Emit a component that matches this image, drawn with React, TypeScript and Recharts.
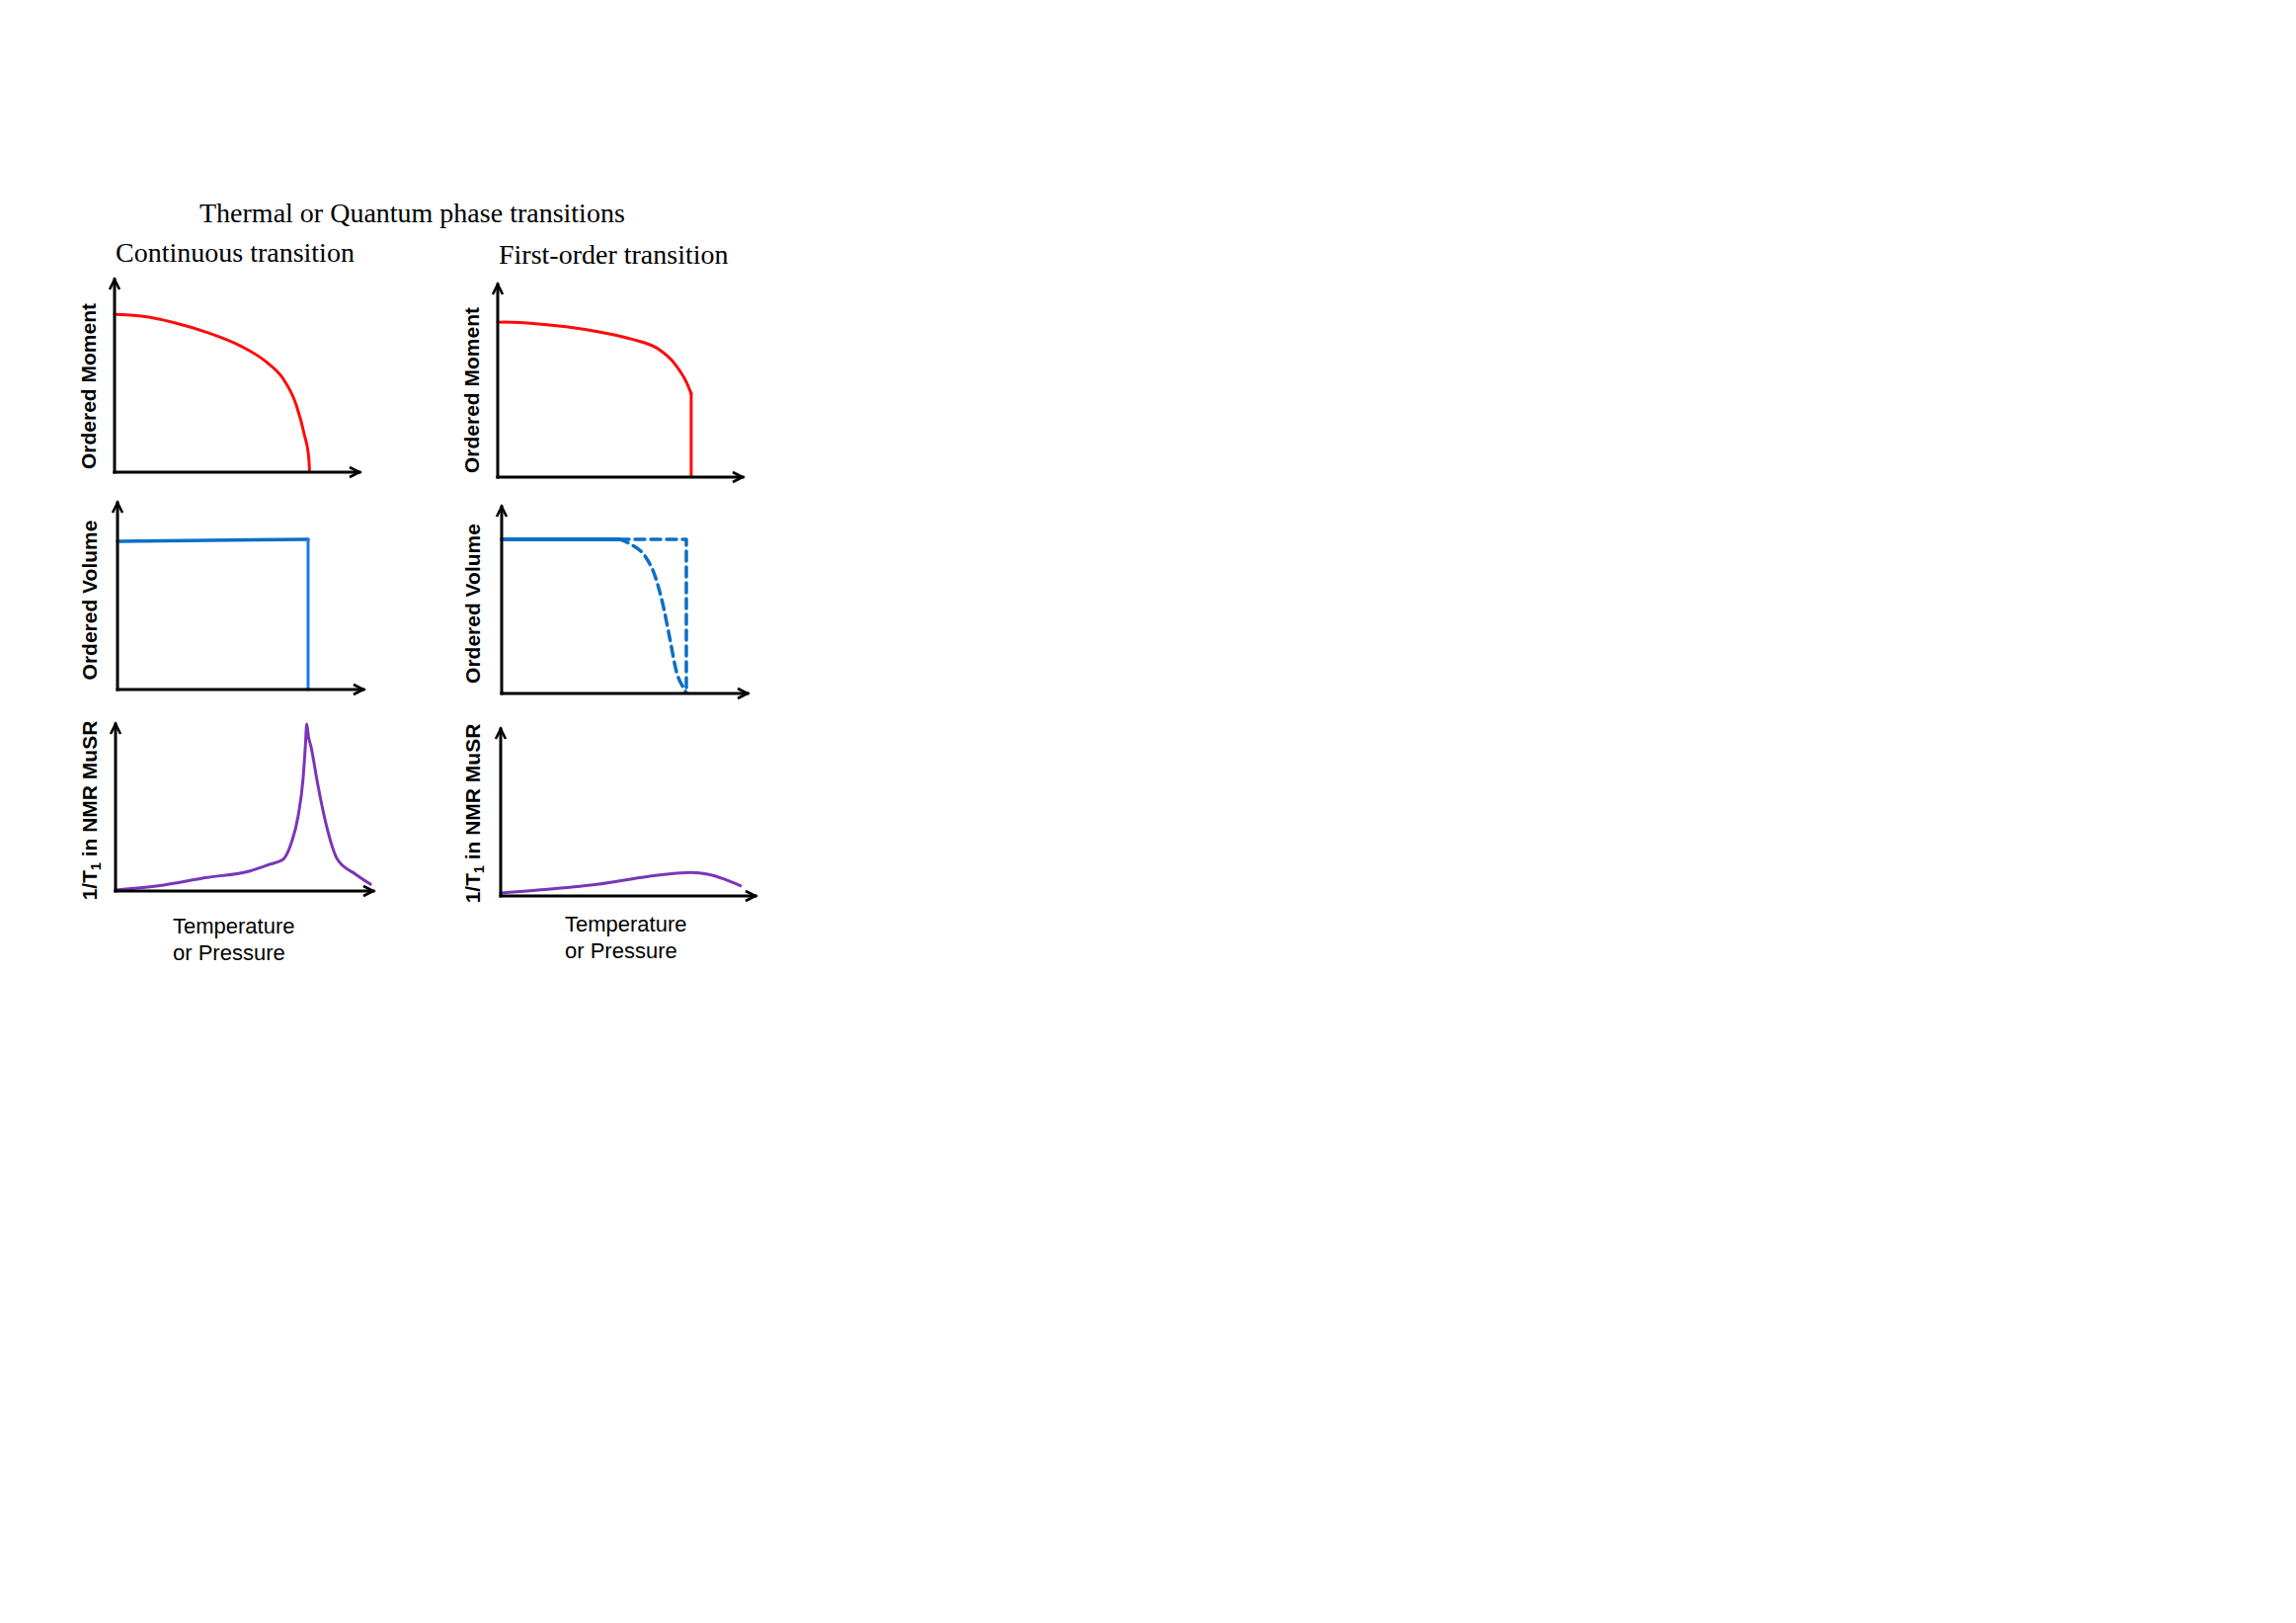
import React from "react";
import { LineChart, Line, XAxis, YAxis } from "recharts";

/**
 * Sketch of order parameter / volume / 1/T1 across a continuous vs
 * first-order transition. Six small hand-drawn-looking panels, no ticks,
 * arrow-headed axes.
 */

const FONT_SANS = '"Liberation Sans", Arial, Helvetica, sans-serif';
const FONT_SERIF = '"Liberation Serif", "Times New Roman", serif';

const RED = "#ff0a0a";
const BLUE_DARK = "#0b6fc6";
const BLUE_BRIGHT = "#1a78f0";
const PURPLE = "#7a35b8";

// x = temperature or pressure (0..100 of axis length), v = sketch value (0..100)

// continuous transition, ordered moment
const momentContT = [0, 11, 24.5, 37.9, 51.3, 62.1, 68.8, 74.2, 77.5, 79.3, 79.6];
const momentContV = [81.9, 81, 77.6, 72.5, 65.6, 57.1, 48.6, 34.9, 19.5, 7.5, 1];

// first-order transition, ordered moment (curve, then the jump to zero)
const momentFirstT = [0, 14.5, 27.9, 41.4, 54.8, 65.6, 72.3, 77, 79];
const momentFirstV = [80.5, 79.8, 78.1, 75.4, 71.6, 66.5, 58.8, 49.4, 43.4];
const momentJumpT = [79, 79];
const momentJumpV = [43.4, 0.6];

// continuous transition, ordered volume
const volumeContT = [0, 77.5];
const volumeContV = [79.4, 80.4];
const volumeDropT = [77.5, 77.5];
const volumeDropV = [80.4, 0];

// first-order transition, ordered volume
const volumeFirstT = [0, 47.8];
const volumeFirstV = [82.5, 82.5];
const volumeStepT = [47.8, 75.1, 75.1];
const volumeStepV = [82.5, 82.5, 0];
const volumeSmearT = [47.7, 53, 58.4, 62.4, 65.7, 68.4, 71.1, 74.4, 75];
const volumeSmearV = [82.7, 79.5, 73.4, 62.8, 46.9, 29.3, 11.6, 2, 0.5];

// 1/T1 relaxation rate
const relaxContT = [0, 16.5, 35.6, 52.2, 59.9, 65, 68.2, 70.8, 72.7, 73.7, 74.2, 74.8, 75.9, 78.4, 81.6, 86.1, 93.1, 98.9];
const relaxContV = [0.6, 3.1, 8.1, 12, 16, 18.9, 28.8, 44.6, 66.3, 88, 100, 93, 86, 64.3, 40.6, 18.9, 10.1, 4.1];
const relaxFirstT = [0, 19.3, 38.6, 58, 74.8, 81.3, 87.7, 94.1];
const relaxFirstV = [1.8, 4.1, 7.1, 11.7, 14, 13, 10.1, 6.1];

const zip = (t: number[], v: number[]) => t.map((x, i) => ({ t: x, v: v[i] }));

type Series = {
  t: number[];
  v: number[];
  color: string;
  width: number;
  dash?: string;
  curve?: "monotone" | "linear";
};

type PanelProps = {
  id: string;
  x0: number; // page x of the y axis
  yTop: number; // page y of the y-axis arrow tip
  plotW: number;
  plotH: number;
  yLabel: React.ReactNode;
  yDx: number; // baseline of rotated label, left of axis
  yDy: number; // label centre, above x axis
  xLabel?: { dx: number; dy: number };
  series: Series[];
};

// axes need a non-zero size or recharts skips them
const AX = 1;
const M = { top: 20, right: 24, bottom: 90 - AX, left: 60 - AX };

function Panel({ id, x0, yTop, plotW, plotH, yLabel, yDx, yDy, xLabel, series }: PanelProps) {
  const width = plotW + M.left + M.right + AX;
  const height = plotH + M.top + M.bottom + AX;
  const plotLeft = M.left + AX;
  const plotBottom = M.top + plotH;
  const axisStyle = { stroke: "#000", strokeWidth: 3, strokeLinecap: "square" as const };

  const renderYLabel = () => {
    const x = plotLeft - yDx;
    const y = plotBottom - yDy;
    return (
      <text
        x={x}
        y={y}
        transform={`rotate(-90 ${x} ${y})`}
        textAnchor="middle"
        fontFamily={FONT_SANS}
        fontSize={21}
        fontWeight="bold"
        fill="#000"
      >
        {yLabel}
      </text>
    );
  };

  const renderXLabel = () => {
    if (!xLabel) return null;
    const x = plotLeft + xLabel.dx;
    const y = plotBottom + xLabel.dy;
    return (
      <text x={x} y={y} fontFamily={FONT_SANS} fontSize={22} fill="#000">
        <tspan x={x}>Temperature</tspan>
        <tspan x={x} dy={26.5}>or Pressure</tspan>
      </text>
    );
  };

  return (
    <div style={{ position: "absolute", left: x0 - plotLeft, top: yTop - M.top, width, height }}>
      <LineChart width={width} height={height} margin={M}>
        <defs>
          <marker
            id={`arrow-${id}`}
            viewBox="0 0 16 12"
            refX={12}
            refY={6}
            markerWidth={16}
            markerHeight={12}
            markerUnits="userSpaceOnUse"
            orient="auto-start-reverse"
            style={{ overflow: "visible" }}
          >
            <path d="M2,1 L12,6 L2,11" fill="none" stroke="#000" strokeWidth={2.6} />
          </marker>
        </defs>
        <XAxis
          type="number"
          dataKey="t"
          domain={[0, 100]}
          height={AX}
          tick={false}
          tickLine={false}
          axisLine={{ ...axisStyle, markerEnd: `url(#arrow-${id})` }}
          label={{ content: renderXLabel }}
        />
        <YAxis
          type="number"
          dataKey="v"
          domain={[0, 100]}
          width={AX}
          tick={false}
          tickLine={false}
          axisLine={{ ...axisStyle, markerStart: `url(#arrow-${id})` }}
          label={{ content: renderYLabel }}
        />
        {series.map((s, i) => (
          <Line
            key={i}
            data={zip(s.t, s.v)}
            dataKey="v"
            type={s.curve ?? "linear"}
            stroke={s.color}
            strokeWidth={s.width}
            strokeDasharray={s.dash}
            strokeLinecap="round"
            strokeLinejoin="round"
            dot={false}
            activeDot={false}
            isAnimationActive={false}
          />
        ))}
      </LineChart>
    </div>
  );
}

const relaxLabel = (
  <>
    1/T<tspan fontSize={14} dy={4}>1</tspan>
    <tspan dy={-4}> in NMR MuSR</tspan>
  </>
);

const titleStyle: React.CSSProperties = {
  position: "absolute",
  fontFamily: FONT_SERIF,
  fontSize: 28,
  lineHeight: "28px",
  whiteSpace: "nowrap",
  color: "#000",
};

export default function App() {
  return (
    <div style={{ position: "absolute", left: 0, top: 0, width: 2300, height: 1600, background: "#fff" }}>
      <div style={{ ...titleStyle, left: 202, top: 201.5 }}>Thermal or Quantum phase transitions</div>
      <div style={{ ...titleStyle, left: 117, top: 241.5 }}>Continuous transition</div>
      <div style={{ ...titleStyle, left: 505, top: 243.5 }}>First-order transition</div>

      <Panel
        id="mc"
        x0={116}
        yTop={283}
        plotW={248}
        plotH={195}
        yLabel="Ordered Moment"
        yDx={19.5}
        yDy={87}
        series={[{ t: momentContT, v: momentContV, color: RED, width: 3, curve: "monotone" }]}
      />
      <Panel
        id="mf"
        x0={504}
        yTop={288}
        plotW={248}
        plotH={195}
        yLabel="Ordered Moment"
        yDx={19.5}
        yDy={88}
        series={[
          { t: momentFirstT, v: momentFirstV, color: RED, width: 3, curve: "monotone" },
          { t: momentJumpT, v: momentJumpV, color: RED, width: 3 },
        ]}
      />
      <Panel
        id="vc"
        x0={119}
        yTop={509}
        plotW={249}
        plotH={189}
        yLabel="Ordered Volume"
        yDx={21.5}
        yDy={90.5}
        series={[
          { t: volumeContT, v: volumeContV, color: BLUE_DARK, width: 3.5 },
          { t: volumeDropT, v: volumeDropV, color: BLUE_BRIGHT, width: 3 },
        ]}
      />
      <Panel
        id="vf"
        x0={508}
        yTop={513}
        plotW={249}
        plotH={189}
        yLabel="Ordered Volume"
        yDx={22.5}
        yDy={91}
        series={[
          { t: volumeFirstT, v: volumeFirstV, color: BLUE_DARK, width: 4 },
          { t: volumeStepT, v: volumeStepV, color: BLUE_DARK, width: 3.5, dash: "10 6" },
          { t: volumeSmearT, v: volumeSmearV, color: BLUE_DARK, width: 3.5, dash: "10 6", curve: "monotone" },
        ]}
      />
      <Panel
        id="rc"
        x0={117}
        yTop={733}
        plotW={261}
        plotH={169}
        yLabel={relaxLabel}
        yDx={19.5}
        yDy={81.5}
        xLabel={{ dx: 58, dy: 43 }}
        series={[{ t: relaxContT, v: relaxContV, color: PURPLE, width: 3, curve: "monotone" }]}
      />
      <Panel
        id="rf"
        x0={507}
        yTop={738}
        plotW={258}
        plotH={169}
        yLabel={relaxLabel}
        yDx={21.5}
        yDy={83.5}
        xLabel={{ dx: 65, dy: 36 }}
        series={[{ t: relaxFirstT, v: relaxFirstV, color: PURPLE, width: 3, curve: "monotone" }]}
      />
    </div>
  );
}
